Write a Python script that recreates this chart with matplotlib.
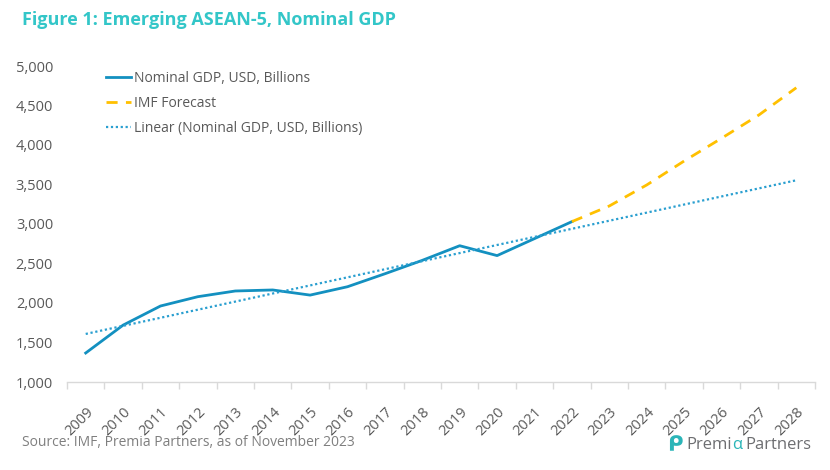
import numpy as np
import matplotlib
matplotlib.use("Agg")
import matplotlib.pyplot as plt
from matplotlib.ticker import FuncFormatter, FixedLocator

plt.rcParams['font.family'] = ['Open Sans', 'DejaVu Sans']

years = [str(y) for y in range(2009, 2029)]
gdp_years = list(range(2009, 2023))
gdp = [1367, 1720, 1962, 2080, 2152, 2165, 2100, 2206, 2370, 2540, 2725, 2600, 2815, 3030]
fc_years = list(range(2022, 2029))
forecast = [3030, 3228, 3494, 3797, 4085, 4380, 4725]

BLUE = '#1390C0'
DOT = '#2A9FD0'
YEL = '#FFC000'
GREY = '#595959'
TEAL = '#33C6C8'

fig = plt.figure(figsize=(8.3, 4.7), dpi=100)
ax = fig.add_axes([67/830, 1-382/470, (815-67)/830, (382-66)/470])

xi = {int(y): i for i, y in enumerate(years)}
gx = [xi[y] for y in gdp_years]
fx = [xi[y] for y in fc_years]

ax.plot(gx, gdp, color=BLUE, lw=2.0, label='Nominal GDP, USD, Billions')
ax.plot(fx, forecast, color=YEL, lw=2.0, ls=(0, (4, 3)), label='IMF Forecast')
coef = np.polyfit(gx, gdp, 1)
tx = np.arange(len(years))
ax.plot(tx, np.polyval(coef, tx), color=DOT, lw=1.6, ls=(0, (1, 1.2)),
        label='Linear (Nominal GDP, USD, Billions)')

ax.set_xlim(-0.5, len(years) - 0.5)
ax.set_ylim(1000, 5000)
ax.set_yticks(range(1000, 5001, 500))
ax.yaxis.set_major_formatter(FuncFormatter(lambda v, p: f'{int(v):,}'))
ax.tick_params(axis='y', length=0, pad=10, labelsize=10.5, labelcolor=GREY)

ax.set_xticks(tx)
ax.set_xticklabels(years, rotation=45, ha='right', rotation_mode='anchor')
ax.xaxis.set_minor_locator(FixedLocator(np.arange(-0.5, len(years), 1)))
ax.tick_params(axis='x', which='major', length=0, pad=16, labelsize=10.5, labelcolor=GREY)
ax.tick_params(axis='x', which='minor', length=5, color='#D9D9D9', width=1)

for s in ['top', 'right', 'left']:
    ax.spines[s].set_visible(False)
ax.spines['bottom'].set_color('#D9D9D9')
ax.spines['bottom'].set_linewidth(1)

leg = ax.legend(loc='upper left', bbox_to_anchor=((108-67)/748 - 0.003, 1.0 - 5/316),
                frameon=False, fontsize=10, handlelength=1.8, handletextpad=0.25,
                labelspacing=0.72, borderaxespad=0, borderpad=0)
for t in leg.get_texts():
    t.set_color(GREY)

fig.text(22/830, 1-20/470, 'Figure 1: Emerging ASEAN-5, Nominal GDP', fontsize=13,
         fontweight='bold', color=TEAL, va='center', ha='left')
fig.text(22/830, 1-443/470, 'Source: IMF, Premia Partners, as of November 2023', fontsize=10,
         color='#7F7F7F', va='center', ha='left')

# logo: chain the pieces using measured widths
LG = '#6D6E71'
LT = '#2BB5B8'
renderer = fig.canvas.get_renderer()
xpos = 686.0
ypix = 445.0
for piece, col, gap in [('Premi', LG, 0.5), ('α', LT, 3.0), ('Partners', LG, 0)]:
    t = fig.text(xpos/830, 1-ypix/470, piece, fontsize=12, color=col, va='center', ha='left')
    bb = t.get_window_extent(renderer)
    xpos += bb.width + gap
fig.text(667/830, 1-446/470, 'ᑭ', fontsize=15, color=LT, va='center', ha='left',
         fontweight='bold')

fig.savefig('out.png', dpi=100)
